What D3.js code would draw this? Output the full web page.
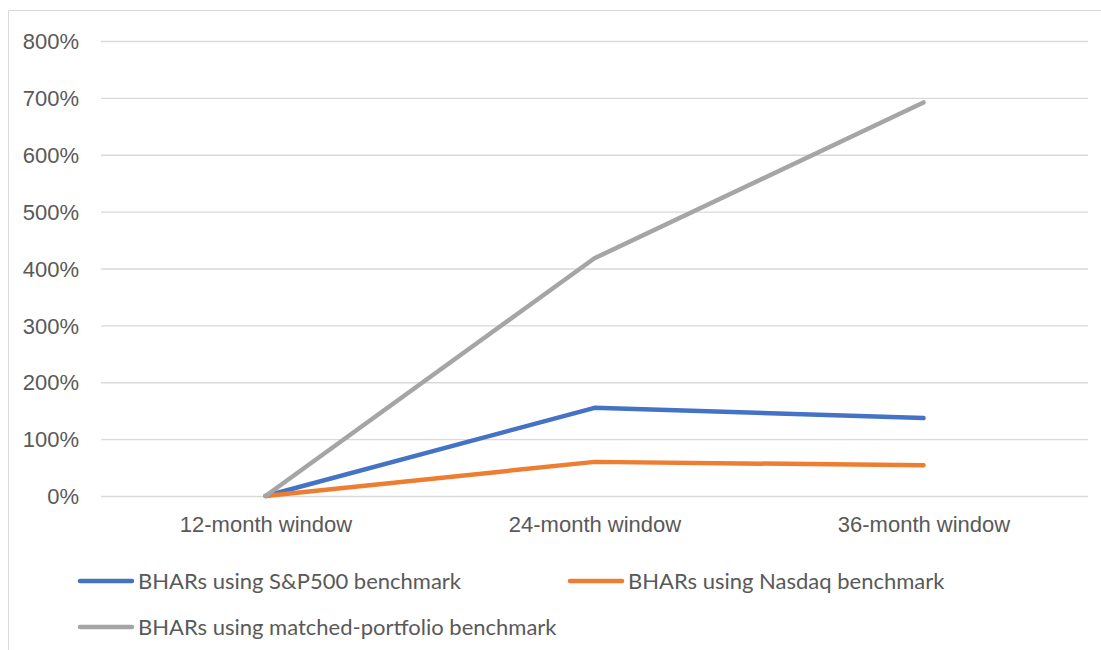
<!DOCTYPE html>
<html>
<head>
<meta charset="utf-8">
<script src="https://cdn.jsdelivr.net/npm/d3@7"></script>
<style>
  html, body { margin: 0; padding: 0; background: #fff; }
  svg { display: block; font-family: "Lato", "Open Sans", sans-serif; }
</style>
</head>
<body>
<svg id="chart" width="1101" height="650"></svg>
<script>
// Buy-and-hold abnormal returns (percent) by holding window
const windows = ["12-month window", "24-month window", "36-month window"];
const sp500 = [0, 155, 137];
const nasdaq = [0, 60, 54];
const matched = [0, 418, 692];
const yTicks = [0, 100, 200, 300, 400, 500, 600, 700, 800];
const seriesNames = [
  "BHARs using S&P500 benchmark",
  "BHARs using Nasdaq benchmark",
  "BHARs using matched-portfolio benchmark"
];
const seriesColors = ["#4472C4", "#ED7D31", "#A5A5A5"];

const series = [sp500, nasdaq, matched].map((values, i) => ({
  name: seriesNames[i], color: seriesColors[i], values
}));

const FONT = 22;
const svg = d3.select("#chart");
const plot = { left: 101, right: 1088, top: 41, bottom: 496 };

// chart frame
svg.append("path")
  .attr("d", "M8.5,651 V10.5 H1102")
  .attr("fill", "none")
  .attr("stroke", "#d9d9d9")
  .attr("stroke-width", 1);

const x = d3.scalePoint().domain(windows).range([plot.left, plot.right]).padding(0.5);
const y = d3.scaleLinear().domain([0, 800]).range([plot.bottom, plot.top]);

// gridlines + value labels
const yAxis = d3.axisLeft(y)
  .tickValues(yTicks)
  .tickFormat(d => d + "%")
  .tickSize(-(plot.right - plot.left))
  .tickPadding(22);
const gy = svg.append("g").attr("transform", `translate(${plot.left},0)`).call(yAxis);
gy.select(".domain").remove();
gy.selectAll(".tick line").attr("stroke", "#d9d9d9").attr("stroke-width", 1.3);
gy.selectAll(".tick text")
  .attr("fill", "#595959")
  .attr("font-size", FONT)
  .attr("dy", "0.35em");

// category labels
const xAxis = d3.axisBottom(x).tickSize(0).tickPadding(20);
const gx = svg.append("g").attr("transform", `translate(0,${plot.bottom})`).call(xAxis);
gx.select(".domain").remove();
gx.selectAll(".tick text")
  .attr("fill", "#595959")
  .attr("font-size", FONT);

// series lines
const line = d3.line().x((d, i) => x(windows[i])).y(d => y(d));
svg.append("g").selectAll("path")
  .data(series)
  .join("path")
  .attr("d", d => line(d.values))
  .attr("fill", "none")
  .attr("stroke", d => d.color)
  .attr("stroke-width", 4.5)
  .attr("stroke-linecap", "round")
  .attr("stroke-linejoin", "round");

// legend
const legendPos = [[80, 581], [570, 581], [80, 627]];
const lg = svg.append("g").selectAll("g")
  .data(series)
  .join("g")
  .attr("transform", (d, i) => `translate(${legendPos[i][0]},${legendPos[i][1]})`);
lg.append("line")
  .attr("x1", 0).attr("x2", 52)
  .attr("stroke", d => d.color)
  .attr("stroke-width", 4.5)
  .attr("stroke-linecap", "round");
lg.append("text")
  .attr("x", 58)
  .attr("dy", "0.35em")
  .attr("fill", "#595959")
  .attr("font-size", FONT)
  .text(d => d.name);
</script>
</body>
</html>
